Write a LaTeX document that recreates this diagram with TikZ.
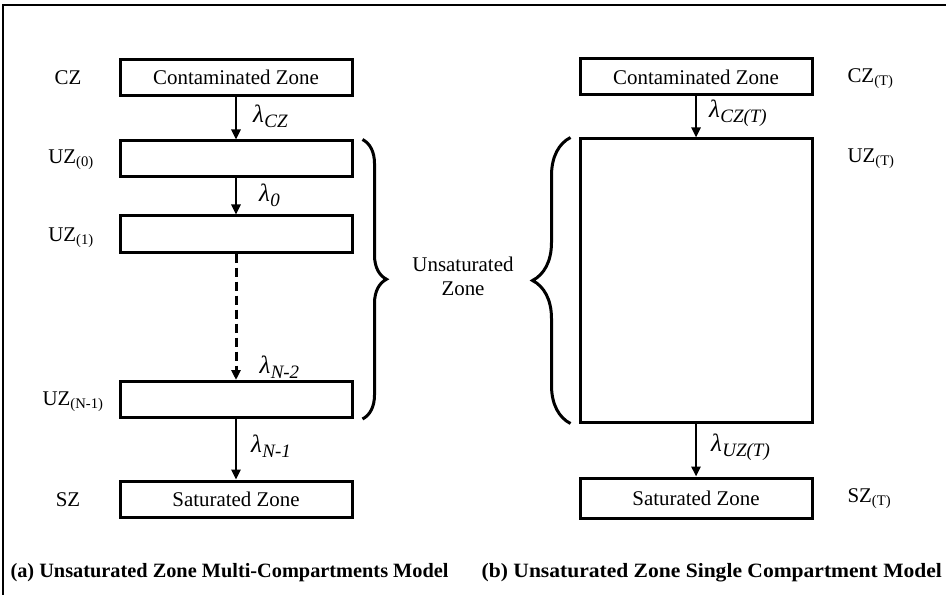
\documentclass[tikz,border=0pt]{standalone}
\usepackage{fontspec}
\setmainfont{Liberation Serif}
\usepackage{tikz}
\usetikzlibrary{arrows.meta}
\usetikzlibrary{decorations.pathreplacing}

% transfer rate: lambda with a lowered italic index
\newcommand{\lam}[1]{\textit{λ}\kern0.5bp\raisebox{-5bp}{\fontsize{19}{19}\selectfont\itshape #1}}

\begin{document}
\begin{tikzpicture}[x=1bp, y=-1bp,
  zonebox/.style={draw, line width=3bp, minimum width=232bp, minimum height=36bp,
    inner sep=0pt, font=\fontsize{21}{24}\selectfont},
  flow/.style={line width=2.4bp, -{Triangle[length=10bp, width=9bp]}},
  rate/.style={font=\fontsize{25}{26}\selectfont, anchor=west, inner sep=0pt},
  side/.style={font=\fontsize{21}{24}\selectfont},
  figcaption/.style={font=\fontsize{20.4}{22}\selectfont\bfseries, anchor=west},
  zbrace/.style={line width=3bp, decorate}]
\useasboundingbox (0,0) rectangle (946,595);

% frame (only left and top edges survive)
\draw[line width=1.2bp] (3,595) -- (3,5) -- (946,5);

% (a) multi-compartment column
\node[zonebox] (cz)  at (236,77.5) {Contaminated Zone};
\node[zonebox] (uz0) at (236,159) {};
\node[zonebox] (uz1) at (236,234) {};
\node[zonebox] (uzn) at (236,399.5) {};
\node[zonebox] (sz)  at (236,499) {Saturated Zone};

\draw[flow] (cz.south) -- (uz0.north) node[rate, midway, xshift=16bp, yshift=2bp] {\lam{CZ}};
\draw[flow] (uz0.south) -- (uz1.north) node[rate, midway, xshift=22bp, yshift=1bp] {\lam{0}};
\draw[flow, line width=3bp, dash pattern=on 9bp off 5bp] (uz1.south) -- (uzn.north) node[rate, pos=0.88, xshift=22bp, yshift=-2bp] {\lam{N-2}};
\draw[flow] (uzn.south) -- (sz.north) node[rate, midway, xshift=14bp, yshift=3bp] {\lam{N-1}};

% labels on the left
\node[side] (lcz)  at (68,78)  {CZ};
\node[side] (luz0) at (71,160) {UZ\textsubscript{(0)}};
\node[side] (luz1) at (71,238) {UZ\textsubscript{(1)}};
\node[side] (luzn) at (73,402) {UZ\textsubscript{(N-1)}};
\node[side] (lsz)  at (68,500) {SZ};

% (b) single compartment column
\node[zonebox] (czt) at (696,77) {Contaminated Zone};
\node[zonebox, minimum height=283bp] (uzt) at (696,280.5) {};
\node[zonebox, minimum height=40bp] (szt) at (696,498) {Saturated Zone};

\draw[flow] (czt.south) -- (uzt.north) node[rate, midway, xshift=12bp, yshift=4bp] {\lam{CZ(T)}};
\draw[flow] (uzt.south) -- (szt.north) node[rate, midway, xshift=14bp, yshift=3bp] {\lam{UZ(T)}};

% labels on the right
\node[side, anchor=west] (lczt) at (844,79)  {CZ\textsubscript{(T)}};
\node[side, anchor=west] (luzt) at (844,159) {UZ\textsubscript{(T)}};
\node[side, anchor=west] (lszt) at (844,499) {SZ\textsubscript{(T)}};

% braces round the unsaturated zone
\coordinate (lbtop) at ([xshift=9bp]uz0.north east);
\coordinate (lbbot) at ([xshift=9bp]uzn.south east);
\draw[zbrace, decoration={brace, amplitude=24bp}] (lbtop) -- (lbbot);
\coordinate (rbtop) at ([xshift=-8bp]uzt.north west);
\coordinate (rbbot) at ([xshift=-8bp]uzt.south west);
\draw[zbrace, decoration={brace, amplitude=38bp, mirror}] (rbtop) -- (rbbot);
\node[side, align=center] (unsat) at (463,276) {Unsaturated\\Zone};

% captions
\node[figcaption] (capa) at (7,573) {(a) Unsaturated Zone Multi-Compartments Model};
\node[figcaption, xscale=1.06] (capb) at (478,573) {(b) Unsaturated Zone Single Compartment Model};
\end{tikzpicture}
\end{document}
